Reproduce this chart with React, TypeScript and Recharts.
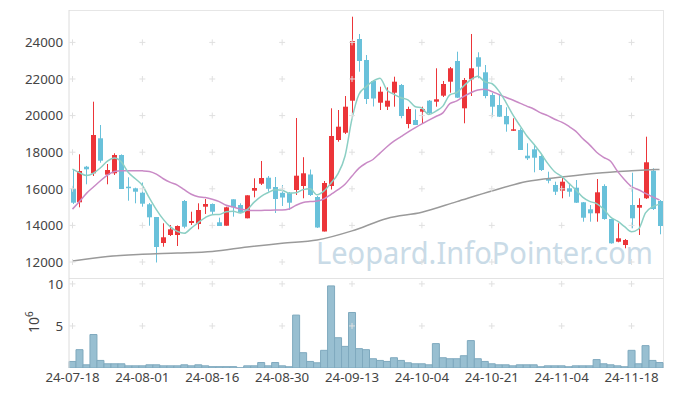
import { ComposedChart, Bar, Line, XAxis, YAxis, ReferenceDot } from "recharts";

const dates = [
  "24-07-18", "24-07-19", "24-07-22", "24-07-23", "24-07-24", "24-07-25", "24-07-26", "24-07-29", "24-07-30", "24-07-31",
  "24-08-01", "24-08-02", "24-08-05", "24-08-06", "24-08-07", "24-08-08", "24-08-09", "24-08-12", "24-08-13", "24-08-14",
  "24-08-16", "24-08-19", "24-08-20", "24-08-21", "24-08-22", "24-08-23", "24-08-26", "24-08-27", "24-08-28", "24-08-29",
  "24-08-30", "24-09-02", "24-09-03", "24-09-04", "24-09-05", "24-09-06", "24-09-09", "24-09-10", "24-09-11", "24-09-12",
  "24-09-13", "24-09-19", "24-09-20", "24-09-23", "24-09-24", "24-09-25", "24-09-26", "24-09-27", "24-09-30", "24-10-02",
  "24-10-04", "24-10-07", "24-10-08", "24-10-10", "24-10-11", "24-10-14", "24-10-15", "24-10-16", "24-10-17", "24-10-18",
  "24-10-21", "24-10-22", "24-10-23", "24-10-24", "24-10-25", "24-10-28", "24-10-29", "24-10-30", "24-10-31", "24-11-01",
  "24-11-04", "24-11-05", "24-11-06", "24-11-07", "24-11-08", "24-11-11", "24-11-12", "24-11-13", "24-11-14", "24-11-15",
  "24-11-18", "24-11-19", "24-11-20", "24-11-21", "24-11-22",
];

const opens = [
  16000, 15262, 17207, 16847, 18759, 16770, 16847, 17846, 16114, 16027,
  15787, 15153, 14459, 13038, 13475, 13475, 15333, 14131, 14076, 15022,
  15169, 14169, 13983, 15426, 15114, 14388, 15896, 16278, 16606, 16098,
  15781, 15787, 15934, 16153, 16781, 15552, 13667, 16153, 18666, 19065,
  20813, 24185, 23037, 21890, 20704, 20486, 21250, 21672, 19540, 19759,
  20213, 20814, 20759, 21087, 21852, 22983, 20398, 21983, 23185, 22365,
  21125, 20578, 19978, 19174, 19213, 17808, 18158, 17792, 16573, 16207,
  15896, 16027, 16060, 15262, 14880, 14661, 16153, 14350, 13109, 12929,
  15114, 14967, 15481, 16989, 15333,
];

const highs = [
  17080, 17885, 17250, 20759, 19486, 17355, 17939, 17880, 16628, 16060,
  16344, 15224, 14459, 14115, 14022, 14000, 15388, 14748, 15207, 15442,
  15200, 14421, 15022, 15426, 15207, 15644, 16573, 17519, 16699, 16644,
  16207, 15825, 19868, 17726, 17054, 15606, 16426, 20398, 20305, 21070,
  25403, 24458, 23310, 21945, 21578, 21545, 22125, 21726, 20486, 20344,
  20486, 20852, 22584, 21890, 22655, 23491, 22054, 24458, 23458, 22764,
  21234, 21180, 20453, 19852, 19305, 18486, 18448, 17846, 16934, 16388,
  16661, 16300, 16480, 15278, 15114, 16535, 16246, 14350, 14115, 13257,
  16880, 15481, 18847, 17120, 15388,
];

const lows = [
  15170, 14989, 16246, 16699, 17426, 16246, 16754, 15989, 15349, 15207,
  15022, 13983, 11973, 12836, 13420, 12874, 13841, 14022, 13787, 14623,
  14623, 13967, 13983, 14476, 14661, 14388, 15535, 16207, 15841, 14677,
  15060, 14841, 15661, 15481, 15606, 13858, 13667, 15962, 18573, 18994,
  20125, 22398, 20633, 20497, 20305, 20305, 20486, 19852, 19305, 19486,
  19579, 20087, 20486, 21016, 21250, 20961, 19579, 21070, 22038, 20945,
  19939, 19923, 19120, 19158, 18120, 17573, 16901, 16972, 16300, 15661,
  15481, 15568, 15224, 14202, 14202, 14202, 14311, 13000, 13077, 12749,
  13841, 13475, 15442, 14841, 13514,
];

const closes = [
  15240, 16972, 17065, 18939, 17535, 17027, 17846, 15989, 16043, 15841,
  15186, 14442, 12820, 13350, 13787, 13967, 13929, 14240, 14841, 15169,
  14748, 13967, 14989, 14989, 14694, 15644, 16043, 16590, 16000, 15442,
  15524, 15240, 16715, 16847, 15661, 13885, 16317, 18885, 19393, 20486,
  24075, 22983, 20906, 20934, 21305, 20814, 21852, 19978, 20360, 19486,
  20360, 20125, 20890, 21726, 22584, 20978, 21945, 22584, 22671, 21070,
  20486, 19939, 19524, 19251, 18120, 17666, 17699, 17027, 16442, 15841,
  16388, 15841, 15240, 14420, 14661, 15808, 14350, 13022, 13295, 13202,
  14388, 15114, 17448, 14896, 13967,
];

// volume, millions of shares
const volumes = [
  0.78, 2.18, 0.38, 3.98, 0.9, 0.5, 0.5, 0.5, 0.26, 0.26,
  0.26, 0.38, 0.38, 0.26, 0.26, 0.26, 0.38, 0.26, 0.38, 0.26,
  0.16, 0.16, 0.16, 0.16, 0.02, 0.26, 0.26, 0.65, 0.26, 0.65,
  0.26, 0.15, 6.29, 1.82, 0.78, 0.62, 2.1, 9.76, 3.6, 2.57,
  6.6, 2.3, 2.18, 1.1, 0.9, 0.78, 1.22, 0.9, 0.62, 0.5,
  0.5, 0.38, 2.9, 1.22, 1.1, 1.1, 1.46, 3.26, 1.1, 0.78,
  0.5, 0.38, 0.38, 0.26, 0.38, 0.38, 0.38, 0.15, 0.26, 0.26,
  0.26, 0.15, 0.26, 0.26, 0.26, 1.0, 0.5, 0.38, 0.26, 0.15,
  2.1, 0.5, 2.66, 0.9, 0.65,
];

const ma5 = [
  17080, 16880, 16720, 16850, 17150, 17508, 17682, 17467, 16888, 16549,
  16181, 15500, 14866, 14328, 13917, 13673, 13571, 13855, 14153, 14429,
  14585, 14593, 14743, 14772, 14677, 14857, 15272, 15592, 15794, 15944,
  15920, 15759, 15784, 15954, 15997, 15670, 15885, 16319, 16828, 17793,
  19831, 21164, 21569, 21877, 22041, 21388, 21162, 20977, 20862, 20498,
  20407, 20062, 20244, 20517, 21137, 21261, 21625, 21963, 22152, 21850,
  21751, 21350, 20738, 20054, 19464, 18900, 18452, 17953, 17391, 16935,
  16679, 16308, 15950, 15546, 15310, 15194, 14896, 14452, 14227, 13935,
  13651, 13804, 14689, 15010, 15163,
];

const ma20 = [
  14890, 15300, 15750, 16100, 16440, 16750, 16950, 16990, 16990, 16990,
  16980, 16950, 16800, 16550, 16350, 16200, 15950, 15700, 15560, 15520,
  15430, 15300, 15100, 15000, 14900, 14830, 14810, 14820, 14830, 14840,
  14840, 14900, 15100, 15250, 15300, 15330, 15450, 15700, 15950, 16250,
  16700, 17130, 17400, 17600, 17950, 18300, 18600, 18850, 19100, 19330,
  19550, 19750, 19950, 20150, 20650, 20800, 21050, 21250, 21400, 21440,
  21320, 21150, 21000, 20850, 20680, 20520, 20360, 20150, 20000, 19800,
  19640, 19420, 19150, 18750, 18400, 18000, 17720, 17500, 16950, 16500,
  16120, 15950, 15750, 15560, 15390,
];

// long average, read every fifth session
const ma120 = [
  12050, null, null, null, null, 12300, null, null, null, null,
  12420, null, null, null, null, 12490, null, null, null, null,
  12580, null, null, null, null, 12820, null, null, null, null,
  13030, null, null, null, null, 13200, null, null, null, null,
  13700, null, null, null, null, 14380, null, null, null, null,
  14720, null, null, null, null, 15300, null, null, null, null,
  15880, null, null, null, null, 16400, null, null, null, null,
  16640, null, null, null, null, 16850, null, null, null, null,
  16980, null, null, null, 17060,
];

const priceTicks = [12000, 14000, 16000, 18000, 20000, 22000, 24000];
const volumeTicks = [5, 10];
const dateTicks = ["24-07-18", "24-08-01", "24-08-16", "24-08-30", "24-09-13", "24-10-04", "24-10-21", "24-11-04", "24-11-18"];

const RED = "#ec3539";
const BLUE = "#69c1da";
const FONT = "'Noto Sans', sans-serif";

const rows = dates.map((date, i) => ({
  date,
  open: opens[i],
  high: highs[i],
  low: lows[i],
  close: closes[i],
  volume: volumes[i],
  ma5: ma5[i],
  ma20: ma20[i],
  ma120: ma120[i],
}));

const Candle = (props: any) => {
  const { x, y, width, height, payload } = props;
  const { open, close, high, low } = payload;
  const top0 = Math.min(y, y + height);
  const h = Math.abs(height);
  const ratio = high === low ? 0 : h / (high - low);
  const yOf = (v: number) => top0 + (high - v) * ratio;
  const color = close >= open ? RED : BLUE;
  const bodyTop = yOf(Math.max(open, close));
  const bodyBottom = yOf(Math.min(open, close));
  const cx = Math.round(x + width / 2) + 0.5;
  return (
    <g>
      <line x1={cx} x2={cx} y1={top0} y2={top0 + h} stroke={color} strokeWidth={1} />
      <rect x={cx - 2.5} y={bodyTop} width={5} height={Math.max(1.5, bodyBottom - bodyTop)} fill={color} />
    </g>
  );
};

const Cross = (props: any) => (
  <path
    d={`M${props.cx - 3},${props.cy}h6M${props.cx},${props.cy - 3}v6`}
    stroke="#e0e0e0"
    strokeWidth={1}
    fill="none"
  />
);

// volume chart svg starts 10px above its plot, so labels sit at 381.5 - 268
const DateTick = (props: any) => {
  const { x, payload } = props;
  if (!dateTicks.includes(payload.value)) return <g />;
  return (
    <text x={x} y={113.5} textAnchor="middle" fill="#444" fontSize={13.3} fontFamily={FONT}>
      {payload.value}
    </text>
  );
};

const tickStyle = { fill: "#444", fontSize: 13.3, fontFamily: FONT };

const App = () => {
  return (
    <div style={{ position: "absolute", left: 0, top: 0, width: 673, height: 396, background: "#fff" }}>
      <svg width={673} height={396} style={{ position: "absolute", left: 0, top: 0 }}>
        <line x1={69} x2={663.5} y1={10.5} y2={10.5} stroke="#e6e6e6" />
        <line x1={663.5} x2={663.5} y1={10} y2={368} stroke="#e6e6e6" />
        <line x1={69} x2={663.5} y1={278.5} y2={278.5} stroke="#e3e3e3" />
        <text
          x={316}
          y={264}
          fontSize={30}
          fontFamily={FONT}
          fill="#c9dbe7"
          textLength={337}
          lengthAdjust="spacingAndGlyphs"
        >
          Leopard.InfoPointer.com
        </text>
        <text transform="translate(39,333) rotate(-90)" fontSize={14} fontFamily={FONT} fill="#444">
          10
          <tspan dy={-6} fontSize={10}>6</tspan>
        </text>
      </svg>

      <div style={{ position: "absolute", left: 0, top: 0 }}>
        <ComposedChart width={673} height={278} data={rows} margin={{ top: 10, right: 10, left: 0, bottom: 0 }}>
          <XAxis dataKey="date" hide />
          <YAxis
            width={69}
            domain={[11126, 25769]}
            ticks={priceTicks}
            interval={0}
            allowDataOverflow
            tickLine={false}
            tickSize={4}
            axisLine={{ stroke: "#dcdcdc" }}
            tick={tickStyle}
          />
          {dateTicks.flatMap((d) =>
            priceTicks.map((v) => (
              <ReferenceDot key={`${d}-${v}`} x={d} y={v} r={3} shape={Cross} ifOverflow="visible" />
            ))
          )}
          <Bar
            dataKey={(d: any) => [d.low, d.high]}
            barSize={5}
            shape={Candle}
            isAnimationActive={false}
          />
          <Line type="monotone" dataKey="ma120" stroke="#9a9a9a" strokeWidth={1.5} dot={false} connectNulls isAnimationActive={false} />
          <Line type="monotone" dataKey="ma20" stroke="#c98ac6" strokeWidth={1.5} dot={false} isAnimationActive={false} />
          <Line type="monotone" dataKey="ma5" stroke="#8ccfc4" strokeWidth={1.5} dot={false} isAnimationActive={false} />
        </ComposedChart>
      </div>

      <div style={{ position: "absolute", left: 0, top: 268 }}>
        <ComposedChart width={673} height={128} data={rows} barCategoryGap={0} margin={{ top: 10, right: 10, left: 0, bottom: 0 }}>
          <XAxis dataKey="date" interval={0} height={28} axisLine={false} tickLine={false} tick={<DateTick />} />
          <YAxis
            width={69}
            domain={[0, 10.7]}
            ticks={volumeTicks}
            interval={0}
            allowDataOverflow
            tickLine={false}
            tickSize={4}
            axisLine={{ stroke: "#dcdcdc" }}
            tick={tickStyle}
          />
          {dateTicks.flatMap((d) =>
            volumeTicks.map((v) => (
              <ReferenceDot key={`${d}-${v}`} x={d} y={v} r={3} shape={Cross} ifOverflow="visible" />
            ))
          )}
          <Bar dataKey="volume" fill="#98bfd1" stroke="#7fa9be" strokeWidth={1} isAnimationActive={false} />
        </ComposedChart>
      </div>
    </div>
  );
};

export default App;
